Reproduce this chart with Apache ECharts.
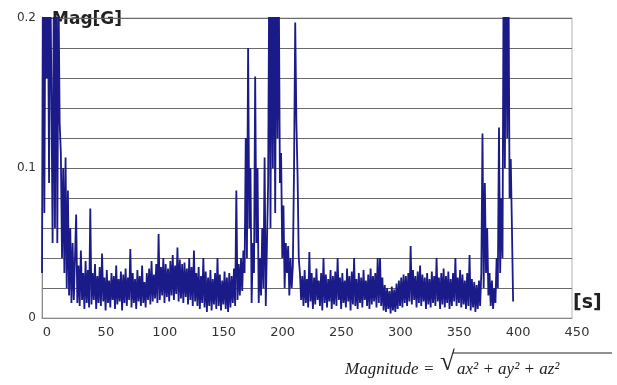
<!DOCTYPE html>
<html>
<head>
<meta charset="utf-8">
<script src="https://cdn.jsdelivr.net/npm/echarts@6/dist/echarts.min.js"></script>
<style>
html, body {margin: 0; padding: 0; background: #fff;}
#main {width: 617px; height: 385px;}
</style>
</head>
<body>
<div id="main"></div>
<script>
// magnitude samples, one per second (G)
const sampleStep = 1;
const mag = [
	0.03, 0.24, 0.07, 0.25, 0.16, 0.23, 0.09, 0.24, 0.15, 0.05,
	0.22, 0.06, 0.25, 0.05, 0.22, 0.13, 0.11, 0.04, 0.10, 0.03,
	0.107, 0.02, 0.085, 0.015, 0.06, 0.01, 0.05, 0.012, 0.04, 0.069,
	0.01, 0.035, 0.008, 0.045, 0.012, 0.03, 0.006, 0.038, 0.01, 0.032,
	0.007, 0.073, 0.009, 0.03, 0.012, 0.036, 0.006, 0.028, 0.01, 0.034,
	0.008, 0.043, 0.011, 0.027, 0.005, 0.032, 0.01, 0.025, 0.007, 0.03,
	0.012, 0.028, 0.006, 0.035, 0.009, 0.026, 0.011, 0.031, 0.005, 0.029,
	0.01, 0.033, 0.008, 0.027, 0.012, 0.046, 0.007, 0.03, 0.01, 0.026,
	0.006, 0.032, 0.011, 0.028, 0.008, 0.035, 0.01, 0.024, 0.007, 0.03,
	0.012, 0.033, 0.009, 0.038, 0.011, 0.029, 0.013, 0.036, 0.01, 0.056,
	0.012, 0.034, 0.015, 0.04, 0.01, 0.036, 0.014, 0.033, 0.011, 0.038,
	0.015, 0.042, 0.012, 0.035, 0.016, 0.047, 0.011, 0.039, 0.013, 0.036,
	0.01, 0.037, 0.014, 0.033, 0.009, 0.04, 0.012, 0.034, 0.008, 0.045,
	0.011, 0.03, 0.008, 0.034, 0.006, 0.028, 0.01, 0.04, 0.007, 0.031,
	0.004, 0.027, 0.008, 0.032, 0.005, 0.026, 0.009, 0.03, 0.006, 0.04,
	0.008, 0.029, 0.005, 0.025, 0.009, 0.031, 0.006, 0.027, 0.004, 0.03,
	0.007, 0.028, 0.01, 0.033, 0.008, 0.085, 0.012, 0.036, 0.015, 0.04,
	0.018, 0.045, 0.03, 0.12, 0.04, 0.18, 0.06, 0.10, 0.01, 0.05,
	0.03, 0.161, 0.05, 0.10, 0.01, 0.04, 0.015, 0.06, 0.02, 0.107,
	0.008, 0.05, 0.09, 0.24, 0.06, 0.25, 0.10, 0.24, 0.07, 0.25,
	0.12, 0.23, 0.09, 0.11, 0.04, 0.075, 0.02, 0.05, 0.03, 0.048,
	0.015, 0.04, 0.02, 0.035, 0.10, 0.197, 0.13, 0.095, 0.04, 0.03,
	0.012, 0.028, 0.008, 0.032, 0.01, 0.026, 0.007, 0.044, 0.011, 0.03,
	0.006, 0.027, 0.009, 0.033, 0.012, 0.025, 0.008, 0.03, 0.005, 0.04,
	0.01, 0.029, 0.007, 0.026, 0.011, 0.032, 0.006, 0.028, 0.009, 0.031,
	0.008, 0.04, 0.012, 0.027, 0.006, 0.03, 0.01, 0.025, 0.007, 0.033,
	0.011, 0.028, 0.005, 0.031, 0.009, 0.04, 0.008, 0.026, 0.006, 0.03,
	0.01, 0.027, 0.007, 0.032, 0.012, 0.025, 0.008, 0.029, 0.006, 0.033,
	0.009, 0.028, 0.011, 0.03, 0.007, 0.04, 0.01, 0.04, 0.008, 0.027,
	0.005, 0.022, 0.004, 0.02, 0.006, 0.018, 0.003, 0.021, 0.005, 0.019,
	0.004, 0.023, 0.006, 0.025, 0.008, 0.027, 0.007, 0.029, 0.01, 0.028,
	0.008, 0.03, 0.011, 0.048, 0.009, 0.032, 0.012, 0.028, 0.007, 0.031,
	0.01, 0.035, 0.008, 0.029, 0.011, 0.027, 0.006, 0.03, 0.009, 0.026,
	0.007, 0.031, 0.01, 0.028, 0.008, 0.04, 0.011, 0.027, 0.006, 0.03,
	0.009, 0.033, 0.007, 0.028, 0.01, 0.031, 0.006, 0.026, 0.008, 0.03,
	0.011, 0.04, 0.008, 0.027, 0.01, 0.032, 0.007, 0.029, 0.009, 0.025,
	0.006, 0.03, 0.008, 0.042, 0.005, 0.026, 0.007, 0.024, 0.004, 0.022,
	0.006, 0.025, 0.008, 0.03, 0.123, 0.02, 0.09, 0.03, 0.06, 0.015,
	0.03, 0.008, 0.025, 0.006, 0.02, 0.01, 0.04, 0.02, 0.127, 0.03,
	0.08, 0.04, 0.25, 0.10, 0.25, 0.12, 0.24, 0.08, 0.106, 0.06,
	0.011
];
const yLabels = ['0', '0.1', '0.2'];
const xTicks = [0, 50, 100, 150, 200, 250, 300, 350, 400, 450];

const chart = echarts.init(document.getElementById('main'));
chart.setOption({
	animation: false,
	grid: {left: 42, right: 45, top: 18, bottom: 67, show: true, borderColor: '#b4b4b4', borderWidth: 1},
	xAxis: {
		type: 'value',
		min: xTicks[0],
		max: xTicks[xTicks.length - 1],
		interval: 50,
		axisLine: {show: true, onZero: false, lineStyle: {color: '#8a8a8a'}},
		axisTick: {show: false},
		splitLine: {show: false},
		axisLabel: {color: '#333', fontSize: 13, fontFamily: 'DejaVu Sans', margin: 8, padding: [0, 0, 0, 10]}
	},
	yAxis: {
		type: 'value',
		min: 0,
		max: 0.2,
		interval: 0.02,
		axisLine: {show: true, lineStyle: {color: '#8a8a8a'}},
		axisTick: {show: false},
		splitLine: {lineStyle: {color: '#6a6a6a', width: 1}},
		axisLabel: {
			color: '#333', fontSize: 12, fontFamily: 'DejaVu Sans', margin: 6,
			formatter: v => {
				const s = String(Math.round(v * 100) / 100);
				return yLabels.includes(s) ? s : '';
			}
		}
	},
	series: [{
		type: 'line',
		data: mag.map((v, i) => [i * sampleStep, v]),
		showSymbol: false,
		clip: true,
		lineStyle: {color: '#1a1a88', width: 1.8, join: 'bevel'}
	}],
	graphic: [
		{type: 'text', left: 52, top: 11, style: {text: 'Mag[G]', font: 'bold 17px "DejaVu Sans"', fill: '#222'}},
		{type: 'text', left: 573, top: 294, style: {text: '[s]', font: 'bold 19px "DejaVu Sans"', fill: '#222'}},
		{type: 'text', left: 345, top: 361, style: {text: 'Magnitude =', font: 'italic 17px "Liberation Serif"', fill: '#222'}},
		{type: 'text', left: 440, top: 349, style: {text: '√', font: '27px "Liberation Serif"', fill: '#222'}},
		{type: 'line', shape: {x1: 453, y1: 353, x2: 612, y2: 353}, style: {stroke: '#222', lineWidth: 1}},
		{type: 'text', left: 457, top: 361, style: {text: 'ax² + ay² + az²', font: 'italic 17px "Liberation Serif"', fill: '#222'}}
	]
});
</script>
</body>
</html>
